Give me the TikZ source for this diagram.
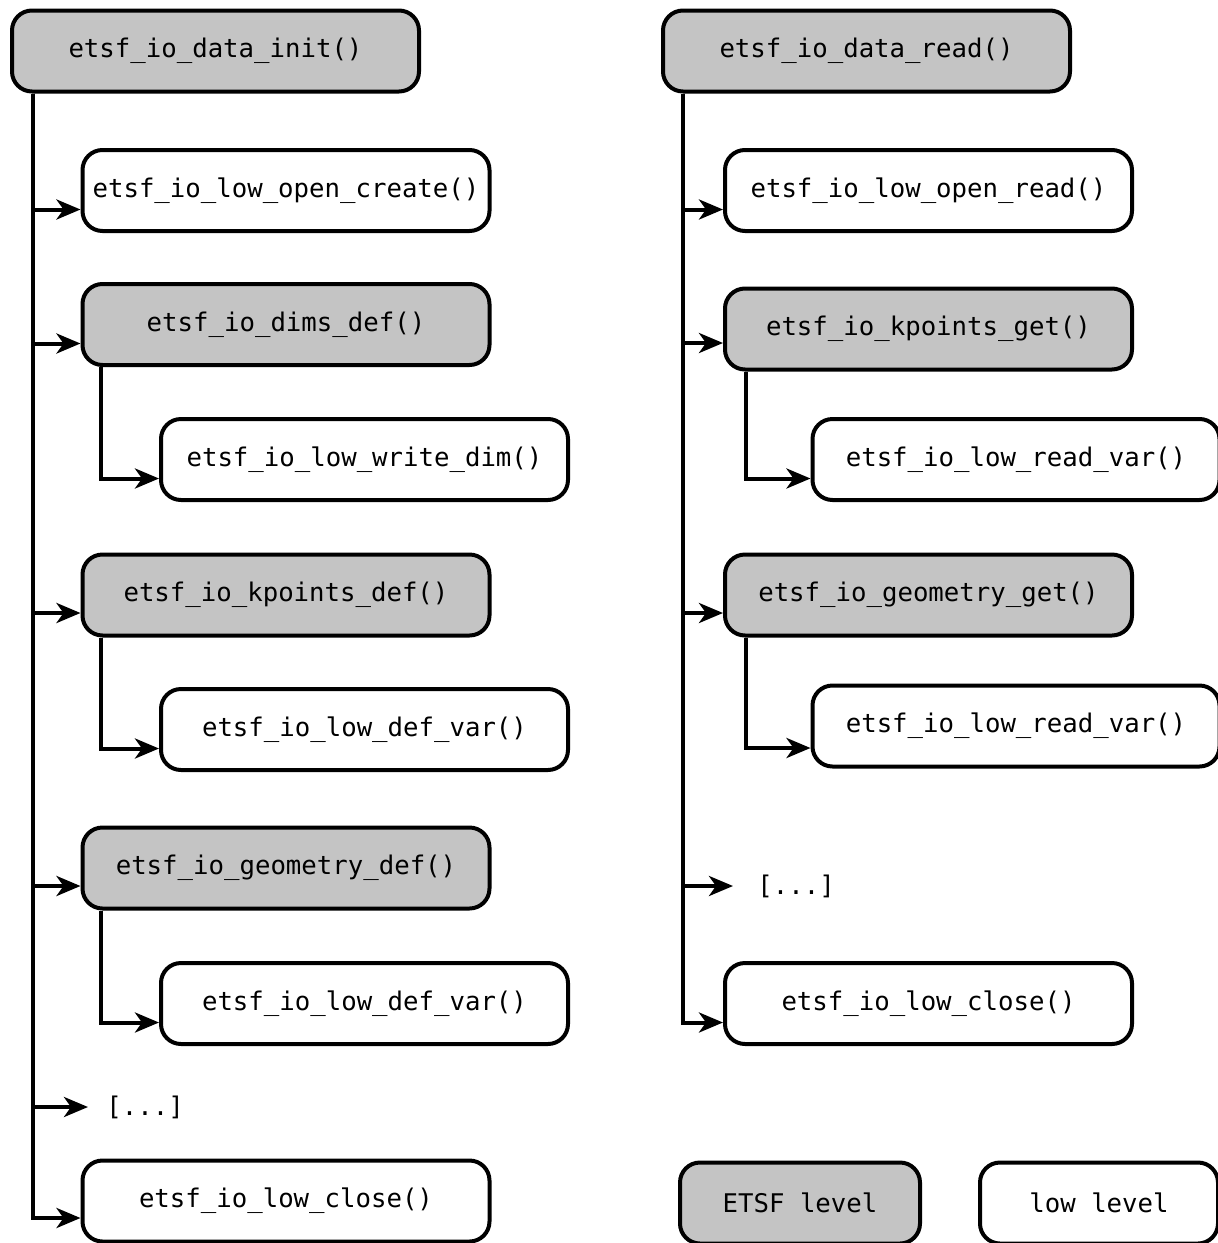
\documentclass[tikz,border=0pt]{standalone}
\usepackage{fontspec}
\setmonofont{DejaVu Sans Mono}
\usetikzlibrary{arrows.meta}
\definecolor{etsfgray}{HTML}{C4C4C4}

\begin{document}
\begin{tikzpicture}[x=0.5pt,y=-0.5pt,
  box/.style={draw, line width=2pt, rounded corners=10pt, minimum height=40.5pt,
    minimum width=203.5pt, inner sep=0pt, font=\ttfamily\fontsize{12.85}{15}\selectfont},
  etsf/.style={box, fill=etsfgray},
  low/.style={box, fill=white},
  dots/.style={inner sep=0pt, font=\ttfamily\fontsize{12.85}{15}\selectfont},
  arr/.style={line width=2pt, -{Stealth[length=12pt,width=10pt,inset=3.5pt]}},
]
\useasboundingbox (0,0) rectangle (1218,1243);

% ---- left column: writing ----
\node[etsf] (init)   at (215.5,51)   {etsf\_io\_data\_init()};
\node[low]  (lopen)  at (286,190.5)  {etsf\_io\_low\_open\_create()};
\node[etsf] (dims)   at (286,324.5)  {etsf\_io\_dims\_def()};
\node[low]  (wdim)   at (364.5,459.5){etsf\_io\_low\_write\_dim()};
\node[etsf] (kpd)    at (286,595)    {etsf\_io\_kpoints\_def()};
\node[low]  (ldva)   at (364.5,729.5){etsf\_io\_low\_def\_var()};
\node[etsf] (geod)   at (286,868)    {etsf\_io\_geometry\_def()};
\node[low]  (ldvb)   at (364.5,1003.5){etsf\_io\_low\_def\_var()};
\node[dots, anchor=west] (ldots) at (106,1107) {[...]};
\node[low]  (lclose) at (286,1201)   {etsf\_io\_low\_close()};

\draw[arr] ([xshift=11.5pt]init.south west) |- ([yshift=-9.5pt]lopen.west);
\draw[arr] ([xshift=11.5pt]init.south west) |- ([yshift=-9.5pt]dims.west);
\draw[arr] ([xshift=10pt]dims.south west)   |- ([yshift=-9.5pt]wdim.west);
\draw[arr] ([xshift=11.5pt]init.south west) |- ([yshift=-9pt]kpd.west);
\draw[arr] ([xshift=10pt]kpd.south west)    |- ([yshift=-9.5pt]ldva.west);
\draw[arr] ([xshift=11.5pt]init.south west) |- ([yshift=-9pt]geod.west);
\draw[arr] ([xshift=10pt]geod.south west)   |- ([yshift=-9.5pt]ldvb.west);
\draw[arr] ([xshift=11.5pt]init.south west) |- ([xshift=-9pt]ldots.west);
\draw[arr] ([xshift=11.5pt]init.south west) |- ([yshift=-8.5pt]lclose.west);

% ---- right column: reading ----
\node[etsf] (read)   at (866.5,51)    {etsf\_io\_data\_read()};
\node[low]  (ropen)  at (928.5,190.5) {etsf\_io\_low\_open\_read()};
\node[etsf] (kpg)    at (928.5,329)   {etsf\_io\_kpoints\_get()};
\node[low]  (rrva)   at (1016,459.5)  {etsf\_io\_low\_read\_var()};
\node[etsf] (geog)   at (928.5,595)   {etsf\_io\_geometry\_get()};
\node[low]  (rrvb)   at (1016,726)    {etsf\_io\_low\_read\_var()};
\node[dots, anchor=west] (rdots) at (757,886) {[...]};
\node[low]  (rclose) at (928.5,1003.5){etsf\_io\_low\_close()};

\draw[arr] ([xshift=11pt]read.south west) |- ([yshift=-9.5pt]ropen.west);
\draw[arr] ([xshift=11pt]read.south west) |- ([yshift=-7pt]kpg.west);
\draw[arr] ([xshift=11.5pt]kpg.south west) |- ([yshift=-9.5pt]rrva.west);
\draw[arr] ([xshift=11pt]read.south west) |- ([yshift=-9pt]geog.west);
\draw[arr] ([xshift=11.5pt]geog.south west) |- ([yshift=-11pt]rrvb.west);
\draw[arr] ([xshift=11pt]read.south west) |- ([xshift=-12pt]rdots.west);
\draw[arr] ([xshift=11pt]read.south west) |- ([yshift=-9.5pt]rclose.west);

% ---- legend ----
\node[etsf, minimum width=120pt] (legetsf) at (800,1203)  {ETSF level};
\node[low,  minimum width=119pt] (leglow)  at (1099,1203) {low level};
\end{tikzpicture}
\end{document}
